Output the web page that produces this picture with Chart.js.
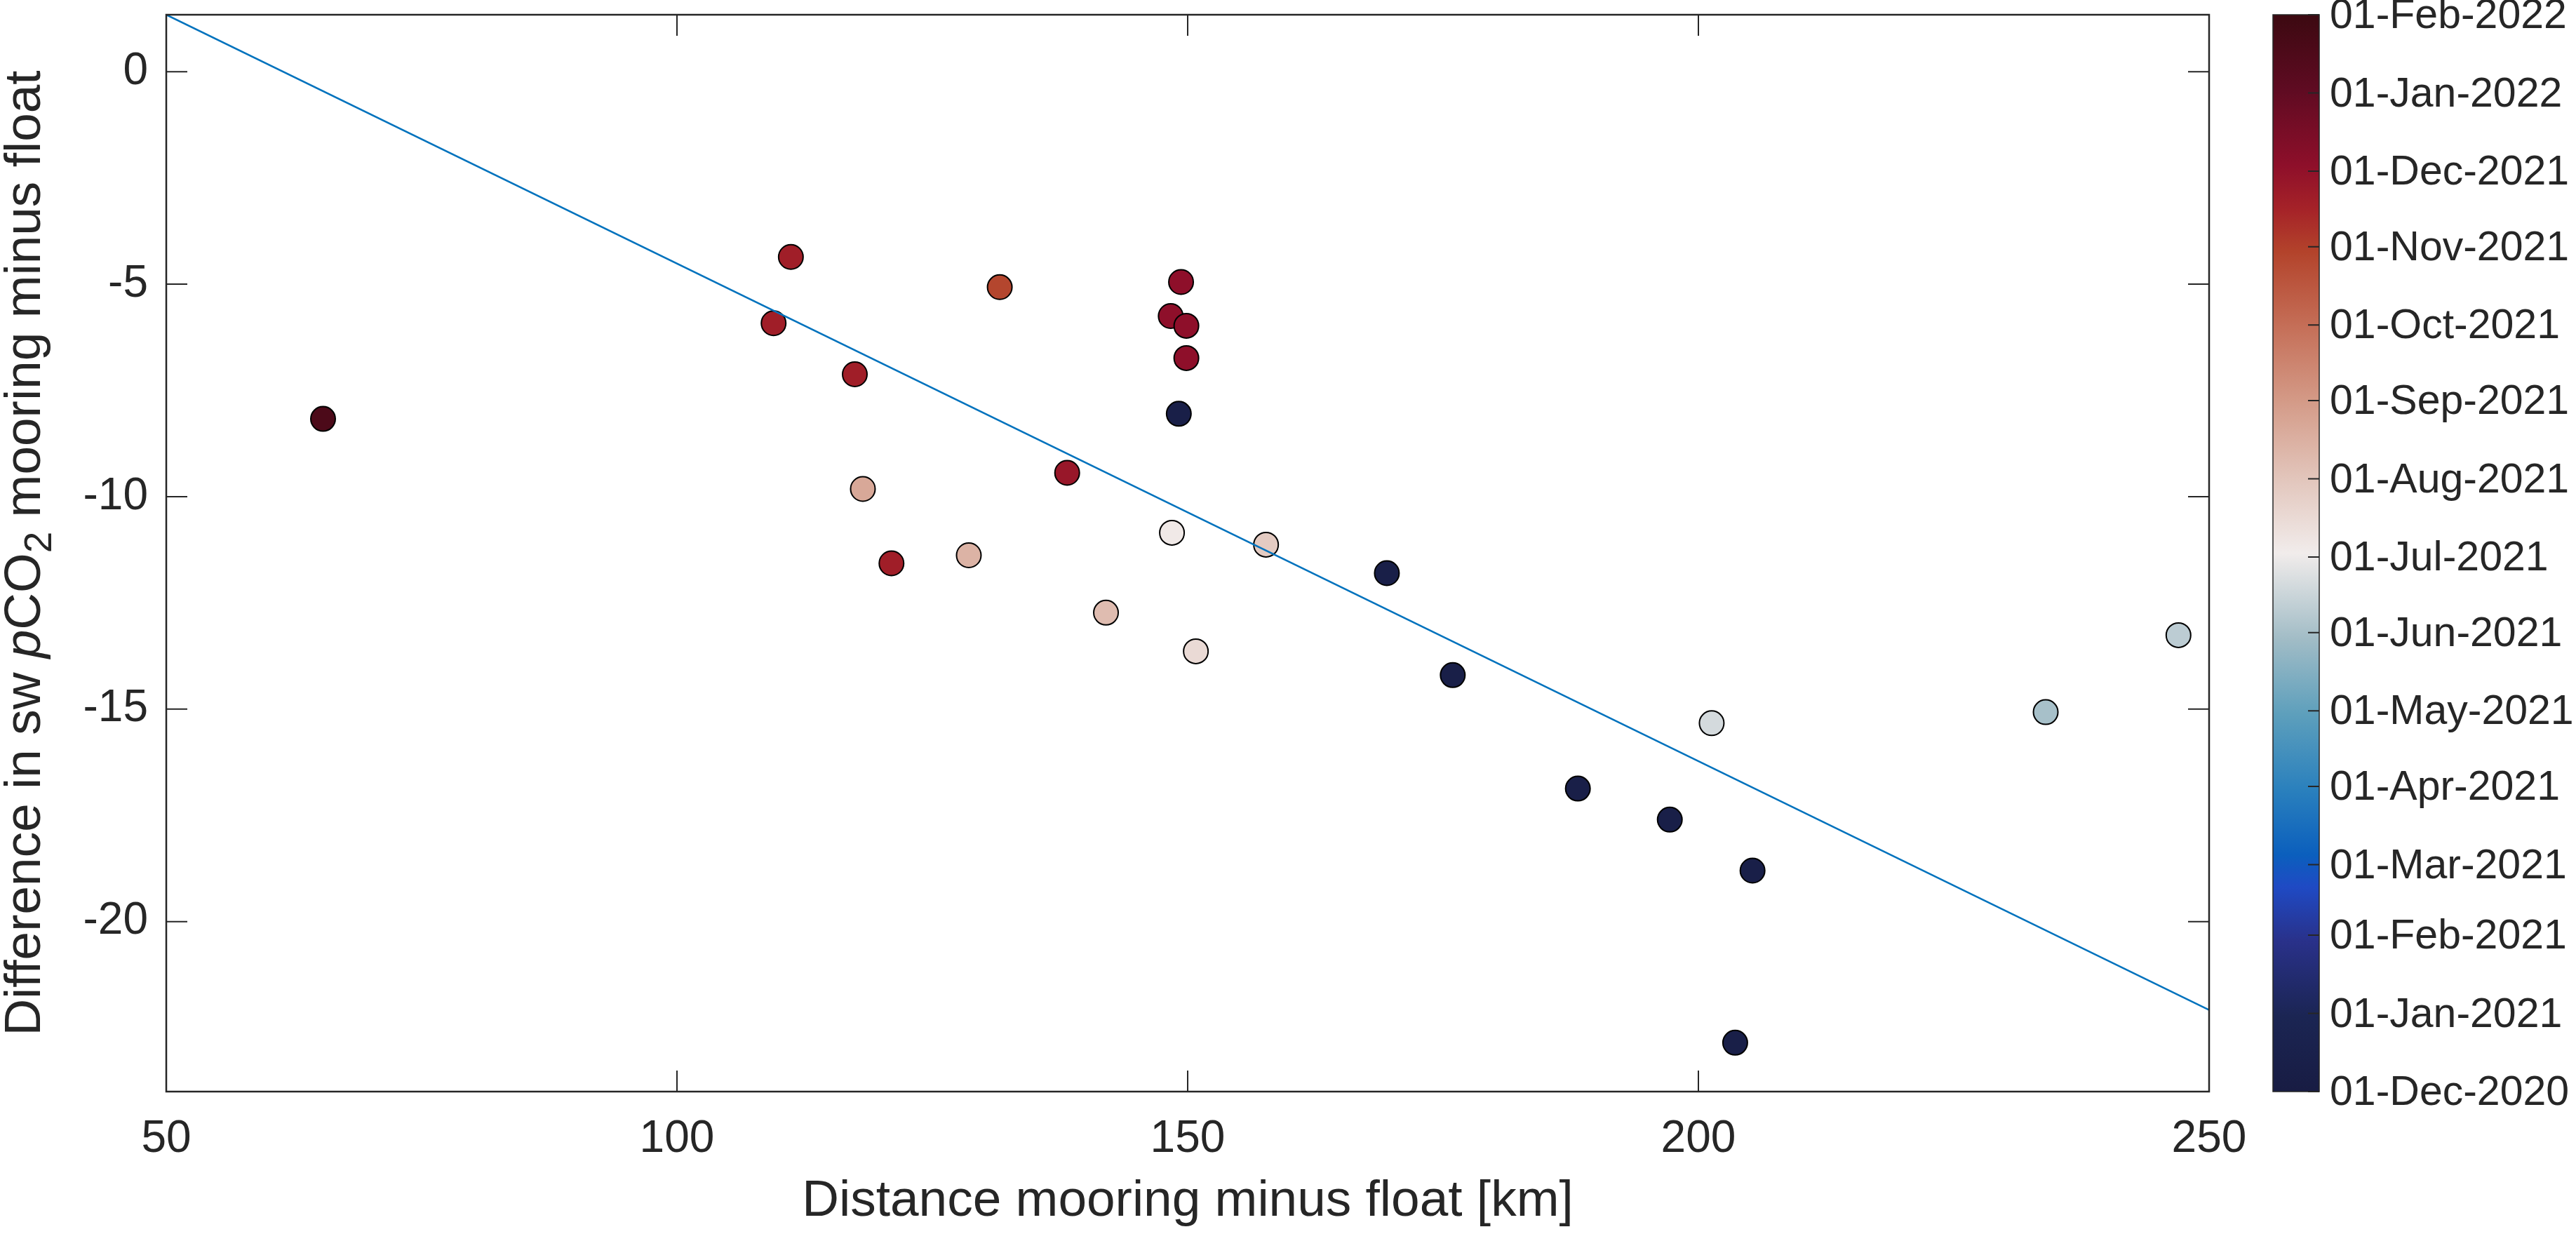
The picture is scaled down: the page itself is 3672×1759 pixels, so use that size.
<!DOCTYPE html>
<html>
<head>
<meta charset="utf-8">
<title>pCO2 difference vs distance</title>
<script src="https://cdn.jsdelivr.net/npm/chart.js@4.4.1/dist/chart.umd.min.js"></script>
<style>
  html, body { margin: 0; padding: 0; background: #ffffff; }
  #main { position: absolute; left: 0; top: 0; width: 3672px; height: 1759px; }
  #cbar { position: absolute; left: 3200px; top: 0; width: 472px; height: 1759px; }
</style>
</head>
<body>
<div id="main"><canvas id="scatterChart"></canvas></div>
<div id="cbar"><canvas id="colorbarChart"></canvas></div>
<script>
// Scatter of mooring-minus-float pCO2 difference, coloured by date

const distanceKm = [65.35, 111.15, 109.46, 117.41, 118.2, 121.0, 131.6, 149.35, 148.34, 149.87,
  149.87, 149.13, 138.2, 148.46, 157.67, 169.5, 128.57, 142.0, 150.8, 175.95,
  201.3, 188.2, 197.2, 205.3, 203.6, 234.0, 247.0];
const pco2Diff = [-8.17, -4.36, -5.92, -7.12, -9.82, -11.57, -5.07, -4.95, -5.75, -5.98,
  -6.74, -8.05, -9.44, -10.85, -11.13, -11.80, -11.38, -12.73, -13.64, -14.2,
  -15.33, -16.87, -17.6, -18.8, -22.85, -15.07, -13.26];
const pointDates = ['2022-01-18', '2021-11-20', '2021-11-20', '2021-11-20', '2021-08-22', '2021-11-20',
  '2021-10-28', '2021-12-03', '2021-12-03', '2021-12-03', '2021-12-03', '2020-12-10',
  '2021-11-26', '2021-07-05', '2021-07-28', '2020-12-10', '2021-08-14', '2021-08-08',
  '2021-07-16', '2020-12-10', '2021-06-20', '2020-12-10', '2020-12-10', '2020-12-10',
  '2020-12-10', '2021-06-01', '2021-06-10'];

// regression line end points
const fitX = [50, 250];
const fitY = [1.34, -22.08];

const xTicks = [50, 100, 150, 200, 250];
const yTicks = [-20, -15, -10, -5, 0];

const cbTickDates = ['2020-12-01', '2021-01-01', '2021-02-01', '2021-03-01', '2021-04-01',
  '2021-05-01', '2021-06-01', '2021-07-01', '2021-08-01', '2021-09-01', '2021-10-01',
  '2021-11-01', '2021-12-01', '2022-01-01', '2022-02-01'];
const cbTickLabels = ['01-Dec-2020', '01-Jan-2021', '01-Feb-2021', '01-Mar-2021', '01-Apr-2021',
  '01-May-2021', '01-Jun-2021', '01-Jul-2021', '01-Aug-2021', '01-Sep-2021', '01-Oct-2021',
  '01-Nov-2021', '01-Dec-2021', '01-Jan-2022', '01-Feb-2022'];

const yTitleParts = [
  { text: 'Difference in sw ', style: 'normal' },
  { text: 'p', style: 'italic' },
  { text: 'CO', style: 'normal' },
  { text: '2', style: 'sub' },
  { text: ' mooring minus float', style: 'normal' }
];
const xTitle = 'Distance mooring minus float [km]';

// balance-like colormap (position, colour)
const cmapStops = [
  [0.00, '#181c43'], [0.07, '#1b2553'], [0.14, '#29318a'], [0.19, '#1f4ac4'],
  [0.22, '#0b5fbd'], [0.28, '#2a80bd'], [0.35, '#5d9fbc'], [0.42, '#a1bcc6'],
  [0.50, '#f1eceb'], [0.57, '#e2c5bb'], [0.64, '#d49b88'], [0.71, '#c56f58'],
  [0.78, '#b3432b'], [0.82, '#a52228'], [0.86, '#8e0f2a'], [0.93, '#5f0b22'],
  [1.00, '#3c0911']
];

const FONT = "'Liberation Sans', Arial, Helvetica, sans-serif";
const TEXT_COLOR = '#262626';
const AXIS_COLOR = '#262626';
const TICK_LEN = 30;
const CB_TICK_LEN = 16;

const toDay = s => Date.parse(s) / 86400000;
const dayMin = toDay(cbTickDates[0]);
const dayMax = toDay(cbTickDates[cbTickDates.length - 1]);

function hexToRgb(h) {
  return [parseInt(h.slice(1, 3), 16), parseInt(h.slice(3, 5), 16), parseInt(h.slice(5, 7), 16)];
}

function colorAt(f) {
  f = Math.min(1, Math.max(0, f));
  for (let i = 1; i < cmapStops.length; i++) {
    const [p1, c1] = cmapStops[i - 1];
    const [p2, c2] = cmapStops[i];
    if (f <= p2) {
      const t = (f - p1) / (p2 - p1);
      const a = hexToRgb(c1), b = hexToRgb(c2);
      const c = a.map((v, k) => Math.round(v + (b[k] - v) * t));
      return `rgb(${c[0]}, ${c[1]}, ${c[2]})`;
    }
  }
  return cmapStops[cmapStops.length - 1][1];
}

const pointColors = pointDates.map(d => colorAt((toDay(d) - dayMin) / (dayMax - dayMin)));

// keep the chart area where the layout padding puts it
function fixVertical(width) {
  return s => {
    s.width = width;
    s.paddingTop = 0;
    s.paddingBottom = 0;
  };
}

// box with inward ticks on all four sides, MATLAB style
const boxTicks = {
  id: 'boxTicks',
  afterDraw(chart) {
    const { ctx, chartArea: a, scales: { x, y } } = chart;
    ctx.save();
    ctx.strokeStyle = AXIS_COLOR;
    ctx.lineWidth = 2;
    ctx.beginPath();
    x.ticks.forEach(t => {
      const px = x.getPixelForValue(t.value);
      ctx.moveTo(px, a.bottom); ctx.lineTo(px, a.bottom - TICK_LEN);
      ctx.moveTo(px, a.top); ctx.lineTo(px, a.top + TICK_LEN);
    });
    y.ticks.forEach(t => {
      const py = y.getPixelForValue(t.value);
      ctx.moveTo(a.left, py); ctx.lineTo(a.left + TICK_LEN, py);
      ctx.moveTo(a.right, py); ctx.lineTo(a.right - TICK_LEN, py);
    });
    ctx.stroke();
    ctx.lineWidth = 2.5;
    ctx.strokeRect(a.left, a.top, a.right - a.left, a.bottom - a.top);
    ctx.restore();
  }
};

// y title with italic p and subscript 2
const richYTitle = {
  id: 'richYTitle',
  afterDraw(chart) {
    const { ctx, chartArea } = chart;
    const cy = (chartArea.top + chartArea.bottom) / 2;
    const fontFor = p => {
      if (p.style === 'italic') return `italic 73px ${FONT}`;
      if (p.style === 'sub') return `55px ${FONT}`;
      return `73px ${FONT}`;
    };
    ctx.save();
    ctx.translate(57, cy);
    ctx.rotate(-Math.PI / 2);
    ctx.fillStyle = TEXT_COLOR;
    ctx.textBaseline = 'alphabetic';
    ctx.textAlign = 'left';
    let total = 0;
    yTitleParts.forEach(p => { ctx.font = fontFor(p); total += ctx.measureText(p.text).width; });
    let pos = -total / 2;
    yTitleParts.forEach(p => {
      ctx.font = fontFor(p);
      ctx.fillText(p.text, pos, p.style === 'sub' ? 16 : 0);
      pos += ctx.measureText(p.text).width;
    });
    ctx.restore();
  }
};

new Chart(document.getElementById('scatterChart'), {
  type: 'scatter',
  data: {
    datasets: [
      {
        type: 'line',
        label: 'fit',
        data: fitX.map((x, i) => ({ x: x, y: fitY[i] })),
        borderColor: '#0072BD',
        borderWidth: 2.5,
        pointRadius: 0,
        fill: false,
        order: 0
      },
      {
        label: 'pCO2 difference',
        data: distanceKm.map((x, i) => ({ x: x, y: pco2Diff[i] })),
        pointRadius: 17.5,
        pointHoverRadius: 17.5,
        pointBackgroundColor: pointColors,
        pointBorderColor: '#000000',
        pointBorderWidth: 2,
        order: 1
      }
    ]
  },
  options: {
    responsive: true,
    maintainAspectRatio: false,
    animation: false,
    layout: { padding: { top: 21, right: 523, left: 0, bottom: 0 } },
    plugins: {
      legend: { display: false },
      tooltip: { enabled: false }
    },
    scales: {
      x: {
        type: 'linear',
        min: 50,
        max: 250,
        afterBuildTicks: s => { s.ticks = xTicks.map(v => ({ value: v })); },
        afterFit: s => { s.height = 203; },
        grid: { display: false, drawTicks: false },
        border: { display: false },
        ticks: { color: TEXT_COLOR, font: { family: FONT, size: 64 }, padding: 30, maxRotation: 0 },
        title: {
          display: true,
          text: xTitle,
          color: TEXT_COLOR,
          font: { family: FONT, size: 73, lineHeight: 1 },
          padding: { top: 0, bottom: 10 }
        }
      },
      y: {
        type: 'linear',
        min: -24,
        max: 1.34,
        afterBuildTicks: s => { s.ticks = yTicks.map(v => ({ value: v })); },
        afterFit: fixVertical(237),
        grid: { display: false, drawTicks: false },
        border: { display: false },
        ticks: { color: TEXT_COLOR, font: { family: FONT, size: 64 }, padding: 26 }
      }
    }
  },
  plugins: [boxTicks, richYTitle]
});

// colour bar as a single floating bar filled with the colormap
const cbFrame = {
  id: 'cbFrame',
  afterDraw(chart) {
    const { ctx, chartArea: a, scales: { y } } = chart;
    ctx.save();
    ctx.strokeStyle = AXIS_COLOR;
    ctx.lineWidth = 2;
    ctx.beginPath();
    y.ticks.forEach(t => {
      const py = y.getPixelForValue(t.value);
      ctx.moveTo(a.right, py); ctx.lineTo(a.right - CB_TICK_LEN, py);
    });
    ctx.stroke();
    ctx.lineWidth = 1.5;
    ctx.strokeRect(a.left, a.top, a.right - a.left, a.bottom - a.top);
    ctx.restore();
  }
};

new Chart(document.getElementById('colorbarChart'), {
  type: 'bar',
  data: {
    labels: ['date'],
    datasets: [{
      data: [[dayMin, dayMax]],
      backgroundColor: (c) => {
        const chart = c.chart;
        if (!chart.chartArea) return '#888888';
        const y = chart.scales.y;
        const g = chart.ctx.createLinearGradient(0, y.getPixelForValue(dayMin), 0, y.getPixelForValue(dayMax));
        cmapStops.forEach(([p, col]) => g.addColorStop(p, col));
        return g;
      },
      borderWidth: 0,
      borderSkipped: false,
      barPercentage: 1,
      categoryPercentage: 1
    }]
  },
  options: {
    responsive: true,
    maintainAspectRatio: false,
    animation: false,
    layout: { padding: { top: 21, left: 40, right: 0, bottom: 203 } },
    plugins: {
      legend: { display: false },
      tooltip: { enabled: false }
    },
    scales: {
      x: { display: false },
      y: {
        type: 'linear',
        position: 'right',
        min: dayMin,
        max: dayMax,
        afterBuildTicks: s => { s.ticks = cbTickDates.map(d => ({ value: toDay(d) })); },
        afterFit: fixVertical(366),
        grid: { display: false, drawTicks: false },
        border: { display: false },
        ticks: {
          color: TEXT_COLOR,
          font: { family: FONT, size: 59 },
          padding: 15,
          labelOffset: 3,
          callback: (v, i) => cbTickLabels[i]
        }
      }
    }
  },
  plugins: [cbFrame]
});
</script>
</body>
</html>
